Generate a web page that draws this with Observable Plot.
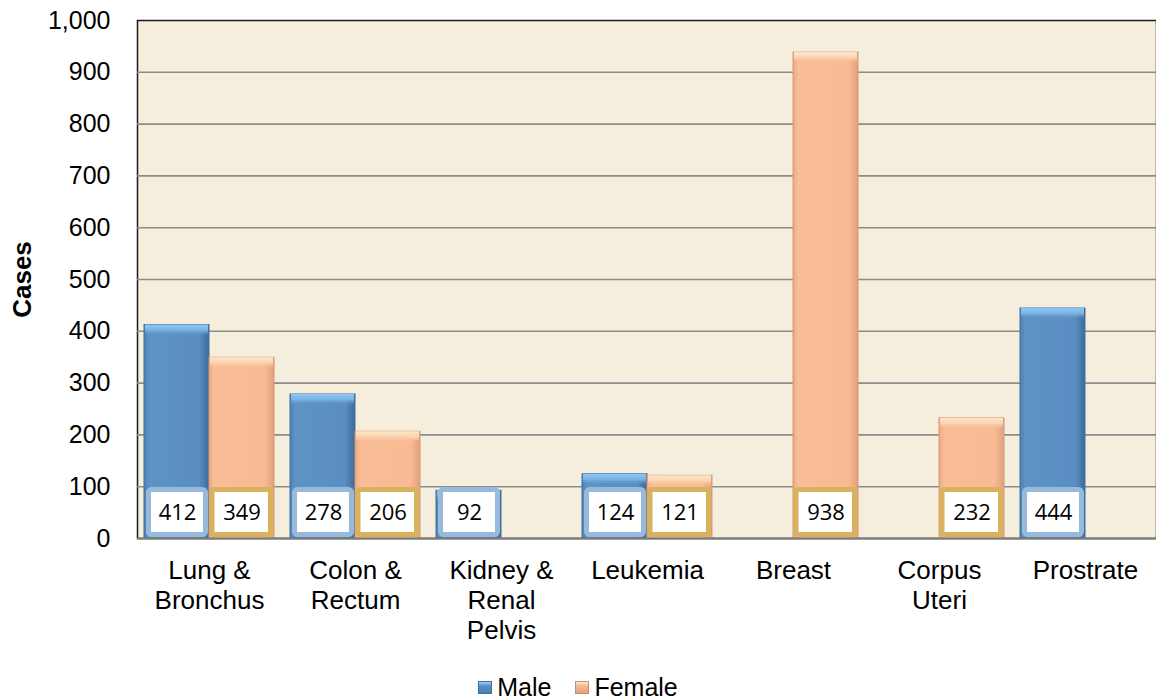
<!DOCTYPE html>
<html>
<head>
<meta charset="utf-8">
<script src="https://cdn.jsdelivr.net/npm/d3@7"></script>
<script src="https://cdn.jsdelivr.net/npm/@observablehq/plot@0.6"></script>
<style>
  html, body { margin: 0; padding: 0; background: #ffffff; }
  #chart { width: 1156px; }
  .legend { display: flex; justify-content: center; align-items: center; margin-top: 12px; margin-left: 0px;
    font-family: "Liberation Sans", Arial, sans-serif; font-size: 25px; line-height: 30px; color: #000; }
  .legend .item { display: flex; align-items: center; margin: 0 12px; }
  .legend .sw { width: 14px; height: 13px; margin-right: 5px; box-sizing: border-box; }
  .sw.male { background: linear-gradient(180deg, #9fd0f5 0%, #5b8fc3 35%, #4a7db0 100%); border: 1px solid #3f6e9e; }
  .sw.female { background: linear-gradient(180deg, #fde6cf 0%, #f5b990 35%, #e8a37a 100%); border: 1px solid #c98d69; }
</style>
</head>
<body>
<div id="chart"></div>
<script>
const categories = ["Lung & Bronchus", "Colon & Rectum", "Kidney & Renal Pelvis", "Leukemia", "Breast", "Corpus Uteri", "Prostrate"];
const tickLabels = ["Lung &\nBronchus", "Colon &\nRectum", "Kidney &\nRenal\nPelvis", "Leukemia", "Breast", "Corpus\nUteri", "Prostrate"];
const maleCases = [412, 278, 92, 124, null, null, 444];
const femaleCases = [349, 206, null, 121, 938, 232, null];
const yTicks = [0, 100, 200, 300, 400, 500, 600, 700, 800, 900, 1000];

const male = categories.map((c, i) => ({cat: c, value: maleCases[i]})).filter(d => d.value != null);
const female = categories.map((c, i) => ({cat: c, value: femaleCases[i]})).filter(d => d.value != null);

const half = 65;
const font = "'Liberation Sans', Arial, Helvetica, sans-serif";

const chart = Plot.plot({
  width: 1156,
  height: 660,
  marginLeft: 137,
  marginRight: 0,
  marginTop: 20,
  marginBottom: 122,
  style: {fontFamily: font, background: "transparent", color: "#000"},
  x: {domain: categories, range: [137, 1157], paddingInner: 0.113, paddingOuter: 0.04},
  y: {domain: [0, 1000]},
  marks: [
    Plot.frame({fill: "#F5EEDC", stroke: "#1a1a1a", strokeWidth: 1.5}),
    Plot.ruleY(yTicks.filter(t => t > 0 && t < 1000), {stroke: "#8c8c8c", strokeWidth: 1.6}),
    // male bars
    Plot.barY(male, {x: "cat", y: "value", insetRight: half, fill: "url(#gMale)", stroke: "#41709f", strokeWidth: 1}),
    Plot.barY(male, {x: "cat", y1: "value", y2: "value", insetTop: 0, insetBottom: -11, insetRight: half + 1, insetLeft: 1, fill: "url(#gMaleTop)"}),
    // female bars
    Plot.barY(female, {x: "cat", y: "value", insetLeft: half, fill: "url(#gFemale)", stroke: "#d39a78", strokeWidth: 1}),
    Plot.barY(female, {x: "cat", y1: "value", y2: "value", insetTop: 0, insetBottom: -11, insetLeft: half + 1, insetRight: 1, fill: "url(#gFemaleTop)"}),
    // value boxes
    Plot.barY(male, {x: "cat", y1: 0, y2: 0, insetTop: -48.5, insetBottom: 3.5, insetLeft: 4.5, insetRight: half + 3.5,
      fill: "#ffffff", stroke: "#97badb", strokeWidth: 5, rx: 3}),
    Plot.barY(female, {x: "cat", y1: 0, y2: 0, insetTop: -48.5, insetBottom: 3.5, insetLeft: half + 3, insetRight: 3.5,
      fill: "#ffffff", stroke: "#d9b25e", strokeWidth: 5, rx: 2}),
    Plot.text(male, {x: "cat", y: 0, text: d => String(d.value), dx: -half / 2 + 0.5, dy: -26,
      fontFamily: "'Open Sans', sans-serif", fontSize: 22, fill: "#000"}),
    Plot.text(female, {x: "cat", y: 0, text: d => String(d.value), dx: half / 2, dy: -26,
      fontFamily: "'Open Sans', sans-serif", fontSize: 22, fill: "#000"}),
    Plot.ruleY([0], {stroke: "#7a7a7a", strokeWidth: 1.8}),
    Plot.axisY({ticks: yTicks, tickFormat: d3.format(","), tickSize: 0, tickPadding: 27, fontSize: 25, label: null}),
    Plot.axisX({tickSize: 0, tickPadding: 19, fontSize: 26, lineHeight: 1.16, label: null,
      tickFormat: d => tickLabels[categories.indexOf(d)]}),
    Plot.text(["Cases"], {frameAnchor: "left", dx: -115, rotate: -90, textAnchor: "middle",
      fontWeight: "bold", fontSize: 26, fill: "#000"})
  ]
});

chart.insertAdjacentHTML("afterbegin", `
<defs>
  <linearGradient id="gMale" x1="0" x2="1" y1="0" y2="0">
    <stop offset="0" stop-color="#4d80b3"/>
    <stop offset="0.08" stop-color="#5e93c6"/>
    <stop offset="0.85" stop-color="#5a8ec2"/>
    <stop offset="1" stop-color="#3d6b99"/>
  </linearGradient>
  <linearGradient id="gMaleTop" x1="0" x2="0" y1="0" y2="1">
    <stop offset="0" stop-color="#8ec7f2"/>
    <stop offset="0.5" stop-color="#79b3e3"/>
    <stop offset="1" stop-color="#5e93c6" stop-opacity="0"/>
  </linearGradient>
  <linearGradient id="gFemale" x1="0" x2="1" y1="0" y2="0">
    <stop offset="0" stop-color="#eaa982"/>
    <stop offset="0.08" stop-color="#f9bd97"/>
    <stop offset="0.85" stop-color="#f8bb94"/>
    <stop offset="1" stop-color="#e0a07b"/>
  </linearGradient>
  <linearGradient id="gFemaleTop" x1="0" x2="0" y1="0" y2="1">
    <stop offset="0" stop-color="#fde7cc"/>
    <stop offset="0.5" stop-color="#fbd2b0"/>
    <stop offset="1" stop-color="#f9bd97" stop-opacity="0"/>
  </linearGradient>
</defs>`);

document.getElementById("chart").appendChild(chart);

const legend = document.createElement("div");
legend.className = "legend";
legend.innerHTML = `<div class="item"><div class="sw male"></div><span>Male</span></div>
<div class="item"><div class="sw female"></div><span>Female</span></div>`;
document.getElementById("chart").appendChild(legend);
</script>
</body>
</html>
